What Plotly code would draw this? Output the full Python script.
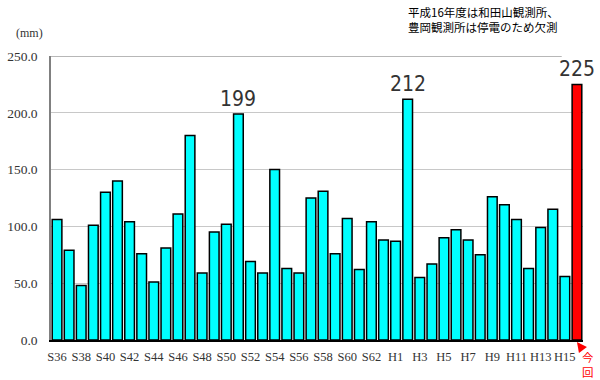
import plotly.graph_objects as go

years = (["S%d" % i for i in range(36, 64)] + ["H%d" % i for i in range(1, 16)] + ["今回"])
values = [106, 79, 48, 101, 130, 140, 104, 76, 51, 81, 111, 180, 59, 95, 102, 199, 69, 59,
          150, 63, 59, 125, 131, 76, 107, 62, 104, 88, 87, 212, 55, 67, 90, 97, 88, 75,
          126, 119, 106, 63, 99, 115, 56, 225]
labeled = {199: "199", 212: "212", 225: "225"}
note_lines = ["平成16年度は和田山観測所、", "豊岡観測所は停電のため欠測"]
y_ticks = [0, 50, 100, 150, 200, 250]
y_ticktext = ["0.0", "50.0", "100.0", "150.0", "200.0", "250.0"]

idx = list(range(len(years)))
colors = ["#00FFFF"] * (len(years) - 1) + ["#FF0000"]

fig = go.Figure()
fig.add_trace(go.Bar(x=idx, y=values, marker=dict(color=colors, line=dict(color="#000000", width=1.5)),
                     width=0.8, hoverinfo="skip"))

tickvals = [i for i in idx[:-1] if i % 2 == 0]
ticktext = [years[i] for i in tickvals]

fig.update_layout(
    width=600, height=380,
    margin=dict(l=51, r=17, t=56, b=40, autoexpand=False),
    plot_bgcolor="white", paper_bgcolor="white",
    showlegend=False,
    xaxis=dict(range=[-0.5, len(years) - 0.5], tickvals=tickvals, ticktext=ticktext,
               automargin=False,
               showgrid=False, showline=True, linecolor="#000000", linewidth=1.5,
               ticks="", ticklabelstandoff=4,
               tickfont=dict(family="Liberation Serif", size=12.5, color="#333")),
    yaxis=dict(range=[0, 250], tickvals=y_ticks, ticktext=y_ticktext, automargin=False,
               showgrid=True, gridcolor="#c8c8c8", gridwidth=1,
               showline=True, linecolor="#808080", linewidth=1.5, zeroline=False,
               ticks="", ticklabelstandoff=9,
               tickfont=dict(family="Liberation Serif", size=13.5, color="#333")),
)

# top border line at 250
fig.add_shape(type="line", xref="paper", yref="y", x0=0, x1=0.96, y0=250, y1=250,
              line=dict(color="#707070", width=1.2))

for i, v in enumerate(values):
    if v in labeled:
        fig.add_annotation(x=i, y=v, text=labeled[v], showarrow=False, yshift=15,
                           font=dict(family="DejaVu Sans Condensed, Liberation Sans", size=21, color="#333"))

fig.add_annotation(xref="paper", yref="paper", x=-0.04, y=1.08, text="(mm)", showarrow=False,
                   xanchor="center", yanchor="middle",
                   font=dict(family="Liberation Serif", size=12, color="#333"))
fig.add_annotation(xref="paper", yref="paper", x=0.667, y=1.19, xanchor="left", yanchor="top",
                   text="<br>".join(note_lines), showarrow=False, align="left",
                   font=dict(family="Noto Sans CJK JP", size=11.5, color="#000"))

# 今回 label with arrow
last = len(years) - 1
fig.add_annotation(x=last, y=0, text="", showarrow=True, arrowhead=2, arrowsize=1, arrowwidth=2,
                   arrowcolor="#FF0000", ax=6, ay=8, yshift=-2)
fig.add_annotation(x=last, y=0, xshift=11, yshift=-24, text="今<br>回", showarrow=False,
                   font=dict(family="Noto Sans CJK JP", size=11.5, color="#FF0000"))

fig.write_html("out.html", config={"displayModeBar": False},
               post_script="document.body.style.margin='0px';document.body.style.padding='0px';")
